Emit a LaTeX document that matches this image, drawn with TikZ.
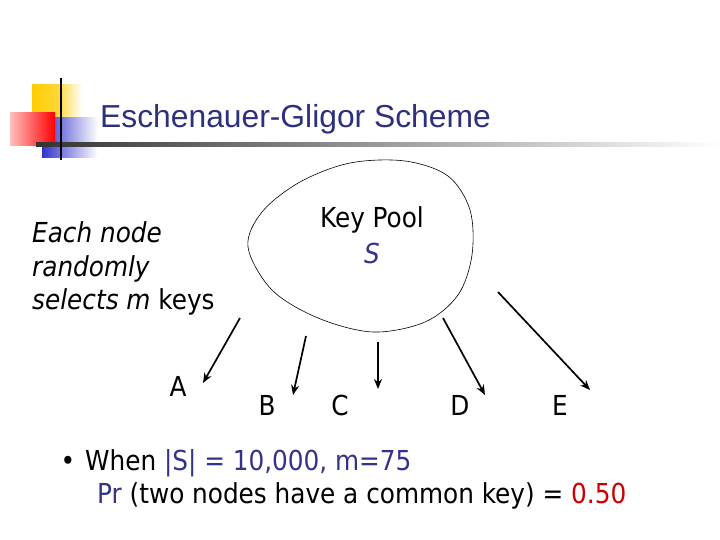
\documentclass[tikz,border=0pt]{standalone}
\usepackage{fontspec}
\setmainfont{Liberation Sans}
\newfontfamily\bodyfont{DejaVu Sans Condensed}
\usetikzlibrary{arrows.meta, positioning}

\definecolor{navy}{RGB}{51,51,140}
\definecolor{titleblue}{RGB}{45,48,125}
\definecolor{gold}{RGB}{255,204,0}
\definecolor{deepred}{RGB}{204,0,0}
\definecolor{barblue}{RGB}{51,51,204}

\begin{document}
\begin{tikzpicture}[
  x=1pt, y=-1pt,
  body/.style   = {font=\bodyfont\fontsize{27.5}{34}\selectfont, inner sep=0pt},
  letter/.style = {body, anchor=base},
  title/.style  = {font=\fontsize{31.8}{36}\selectfont, text=titleblue, inner sep=0pt},
  arr/.style    = {-{Stealth[length=10pt, width=8pt]}, line width=1.7pt},
]
\useasboundingbox (0,0) rectangle (720,540);

% corner squares and rule
\shade[left color=gold, right color=white, middle color=gold!80] (32,85) rectangle (82,120);
\shade[left color=barblue, right color=white] (42,118) rectangle (98,158);
\shade[left color=red!25, right color=red] (10,113) rectangle (55,146);
\shade[left color=black!80, right color=white] (36,143) rectangle (720,147);
\draw[line width=2pt] (61,78) -- (61,160);

\node[title, anchor=base west] (title) at (100,128) {Eschenauer-Gligor Scheme};

% key pool
\draw[line width=0.6pt] plot[smooth cycle, tension=0.55] coordinates {
  (248,247) (262,212) (300,182) (350,163) (405,161) (448,176)
  (470,210) (472,255) (458,295) (425,322) (373,332) (318,318)
  (272,290)};
\node[body, anchor=base] (pool) at (372,228) {Key Pool};
\node[body, anchor=base, text=navy] (S) at (372,263) {\itshape S};

\node[body, anchor=base west] (each) at (32,242) {\itshape Each node};
\node[body, anchor=base west] (rand) at (32,276) {\itshape randomly};
\node[body, anchor=base west] (sel)  at (32,309) {\itshape selects m \upshape keys};

% sensor nodes
\node[letter] (A) at (178,396) {A};
\node[letter] (B) at (267,415) {B};
\node[letter] (C) at (340,415) {C};
\node[letter] (D) at (460,415) {D};
\node[letter] (E) at (560,415) {E};

\coordinate (a0) at (240,318); \coordinate (a1) at (203,383);
\coordinate (b0) at (306,336); \coordinate (b1) at (293,395);
\coordinate (c0) at (378,342); \coordinate (c1) at (378,389);
\coordinate (d0) at (443,318); \coordinate (d1) at (485,395);
\coordinate (e0) at (498,292); \coordinate (e1) at (590,390);

\draw[arr] (a0) -- (a1);
\draw[arr] (b0) -- (b1);
\draw[arr] (c0) -- (c1);
\draw[arr] (d0) -- (d1);
\draw[arr] (e0) -- (e1);

% bullet text
\node[body, anchor=base] (dot) at (68,470) {•};
\node[body, anchor=base west] (when) at (85,470)
  {When \textcolor{navy}{|S| = 10,000, m=75}};
\node[body, anchor=base west] (pr) at (97,503)
  {\textcolor{navy}{Pr} (two nodes have a common key) = \textcolor{deepred}{0.50}};
\end{tikzpicture}
\end{document}
